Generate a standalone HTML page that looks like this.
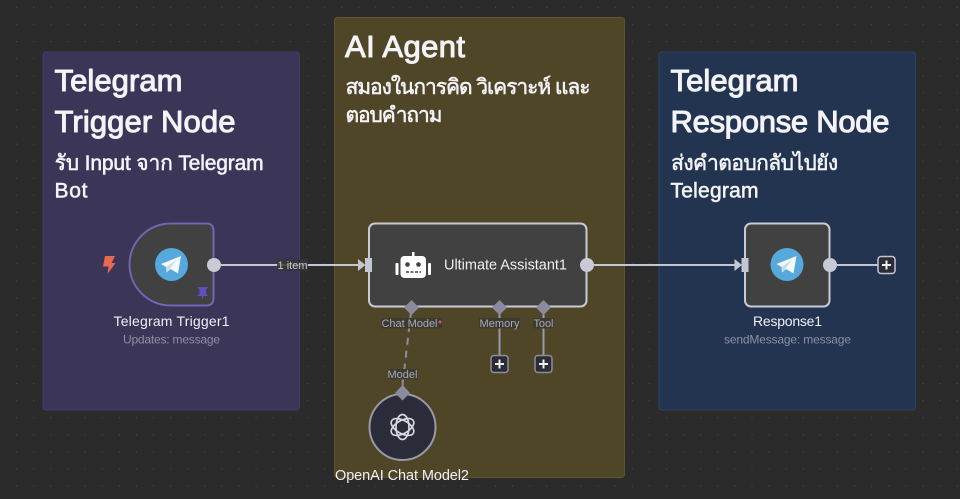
<!DOCTYPE html>
<html><head><meta charset="utf-8"><style>
html,body{margin:0;padding:0;background:#2b2b2b;width:960px;height:499px;overflow:hidden}
svg{display:block}
text{font-family:"Liberation Sans","DejaVu Sans","Noto Sans CJK SC",sans-serif}
.h{font-size:31px;font-weight:400;fill:#f3f3f8;stroke:#f3f3f8;stroke-width:1.050;stroke-linejoin:round}
.s{font-size:21px;font-weight:400;fill:#f3f3f8;stroke:#f3f3f8;stroke-width:.55;stroke-linejoin:round}
.n{font-size:14px;fill:#f0f0f5}
.u{font-size:12px;fill:#8f8fa6}
.l{font-size:11px;fill:#a9a9b9}
.e{stroke:#c4c6d2;stroke-width:2;fill:none}
.g{stroke:#9a9aa8;stroke-width:2;fill:none}
</style></head><body>
<svg width="960" height="499" viewBox="0 0 960 499" xmlns="http://www.w3.org/2000/svg">
<defs>
<pattern id="g" x="16.2" y="6.8" width="17.1" height="17.1" patternUnits="userSpaceOnUse"><rect width="1" height="1" fill="#4c4c4c"/></pattern>
<g id="tg"><circle r="16.5" fill="#55a9dc"/><path d="M-10.500 -0.500L9.500 -8.500L6.500 9L-1 4.500L-5 8L-5.500 2.500Z" fill="#f4f8fb"/><path d="M-5.500 2.500L5 -4.500L-1.500 4L-5 8Z" fill="#c8dcea"/></g>
<g id="plus"><rect x="-8.500" y="-8.500" width="17" height="17" rx="3" fill="#2c2c36" stroke="#8d8d9e" stroke-width="1.500"/><path d="M-4.500 0H4.500M0 -4.500V4.500" stroke="#eee" stroke-width="2"/></g>
</defs>
<rect width="960" height="499" fill="#2b2b2b"/>
<rect width="960" height="499" fill="url(#g)"/>

<rect x="43" y="52" width="256.500" height="358" rx="3" fill="#3b3557" stroke="#433a68"/>
<rect x="334.500" y="17.500" width="290" height="460" rx="3" fill="#4f4527" stroke="#5e5330"/>
<rect x="659" y="52" width="256.500" height="358" rx="3" fill="#22344f" stroke="#2c4263"/>

<text class="h" x="54.500" y="91" textLength="128">Telegram</text>
<text class="h" x="54.500" y="132" textLength="181">Trigger Node</text>
<text class="s" x="54.500" y="170" textLength="209">รับ Input จาก Telegram</text>
<text class="s" x="54.500" y="197.500" textLength="33">Bot</text>
<text class="h" x="345" y="57" textLength="120">AI Agent</text>
<text class="s" x="345.500" y="94" textLength="245">สมองในการคิด วิเคราะห์ และ</text>
<text class="s" x="345.500" y="122" textLength="97">ตอบคำถาม</text>
<text class="h" x="670.500" y="91" textLength="128">Telegram</text>
<text class="h" x="670.500" y="132" textLength="219">Response Node</text>
<text class="s" x="670.500" y="170" textLength="167">ส่งคำตอบกลับไปยัง</text>
<text class="s" x="670.500" y="197.500" textLength="88">Telegram</text>

<path class="e" d="M214 265H360M587 265H737M830 265H878"/>
<path class="g" d="M499.500 308V356M543.500 308V356"/>
<path d="M411 312L403 381" stroke="#8d8d9e" stroke-width="2" stroke-dasharray="7 6" fill="none"/>
<path d="M402.700 379V388" stroke="#8d8d9e" stroke-width="2"/>

<path d="M171 223.500H206Q213.500 223.500 213.500 231V298Q213.500 305.500 206 305.500H171C148 305.500 129.500 287 129.500 264.500C129.500 242 148 223.500 171 223.500Z" fill="#414141" stroke="#7464b4" stroke-width="2"/>
<use href="#tg" x="171.500" y="264.500"/>
<circle cx="214" cy="265" r="7" fill="#c8cad6"/>
<path d="M105 256H115L111.500 263H115.500L107.500 274L108.500 266.500H103Z" fill="#e8694f"/>
<path d="M197.500 287H208L206 290V293.500L208 296H203.500L202.700 300.500L201.900 296H197L199.500 293.500V290Z" fill="#5e4fc0"/>
<text class="n" x="171.500" y="326" text-anchor="middle" textLength="116">Telegram Trigger1</text>
<text class="u" x="171.500" y="343.500" text-anchor="middle" textLength="97">Updates: message</text>

<rect x="277" y="259" width="31" height="12" fill="#353535" fill-opacity=".85"/>
<text x="292.500" y="269" text-anchor="middle" font-size="11" fill="#c6c6d0" textLength="30">1 item</text>

<rect x="369" y="223.500" width="217.500" height="83" rx="6" fill="#414141" stroke="#c8cad6" stroke-width="2"/>
<rect x="365" y="258" width="7" height="14" fill="#c4c6d2"/>
<path d="M358 259L365.500 265L358 271Z" fill="#c4c6d2"/>
<g fill="#fff">
<rect x="400.500" y="256" width="25.500" height="22" rx="4"/>
<rect x="395.500" y="263" width="3" height="12" rx="1"/>
<rect x="428" y="263" width="3" height="12" rx="1"/>
<rect x="412" y="252" width="2.500" height="5"/>
</g>
<circle cx="407.500" cy="264.500" r="2.300" fill="#414141"/><circle cx="418.500" cy="264.500" r="2.300" fill="#414141"/>
<path d="M406 272H421" stroke="#414141" stroke-width="1.500" stroke-dasharray="3 1.500"/>
<text x="444" y="269.500" font-size="14.500" fill="#f0f0f5" textLength="123">Ultimate Assistant1</text>
<circle cx="587" cy="265" r="7" fill="#c8cad6"/>

<path d="M411.500 300L419 307.500L411.500 315L404 307.500Z" fill="#8b8ba0"/>
<path d="M499.500 300L507 307.500L499.500 315L492 307.500Z" fill="#8b8ba0"/>
<path d="M543.500 300L551 307.500L543.500 315L536 307.500Z" fill="#8b8ba0"/>
<rect x="381" y="318" width="61" height="10.500" fill="#3d3a30"/>
<rect x="479" y="318" width="41" height="10.500" fill="#3d3a30"/>
<rect x="533" y="318" width="21" height="10.500" fill="#3d3a30"/>
<rect x="388" y="369" width="30" height="10.500" fill="#3d3a30"/>
<text class="l" x="381.500" y="327" textLength="56">Chat Model</text><circle cx="440" cy="322" r="1.500" fill="#e05a6a"/>
<text class="l" x="479.500" y="327" textLength="40">Memory</text>
<text class="l" x="533.500" y="327" textLength="20">Tool</text>
<text class="l" x="387.500" y="378" textLength="30">Model</text>

<use href="#plus" x="499.500" y="364"/>
<use href="#plus" x="543.500" y="364"/>
<g transform="translate(886.500 265)"><rect x="-8.500" y="-8.500" width="17" height="17" rx="3" fill="#2c2c36" stroke="#c4c6d2" stroke-width="1.500"/><path d="M-4.500 0H4.500M0 -4.500V4.500" stroke="#eee" stroke-width="2"/></g>

<circle cx="402.500" cy="427" r="33" fill="#2b2c3a" stroke="#9a9aa6" stroke-width="2"/>
<path d="M402.500 385L410 393L402.500 400.500L395 393Z" fill="#8b8ba0"/>
<g transform="translate(402.500 427)" fill="none" stroke="#d8d8e2" stroke-width="1.700">
<ellipse rx="12.500" ry="6.500" transform="rotate(30)"/>
<ellipse rx="12.500" ry="6.500" transform="rotate(90)"/>
<ellipse rx="12.500" ry="6.500" transform="rotate(150)"/>
</g>
<text x="335" y="480" font-size="14.500" fill="#f0f0f5" textLength="134">OpenAI Chat Model2</text>

<rect x="745" y="223.500" width="84.500" height="83" rx="6" fill="#414141" stroke="#c8cad6" stroke-width="2"/>
<rect x="741.500" y="258" width="7" height="14" fill="#c4c6d2"/>
<path d="M734.500 259L742 265L734.500 271Z" fill="#c4c6d2"/>
<use href="#tg" x="787" y="264.500"/>
<circle cx="830" cy="265" r="7" fill="#c8cad6"/>
<text class="n" x="787.500" y="326" text-anchor="middle" textLength="69">Response1</text>
<text class="u" x="787.500" y="343.500" text-anchor="middle" textLength="127">sendMessage: message</text>
</svg>
</body></html>
